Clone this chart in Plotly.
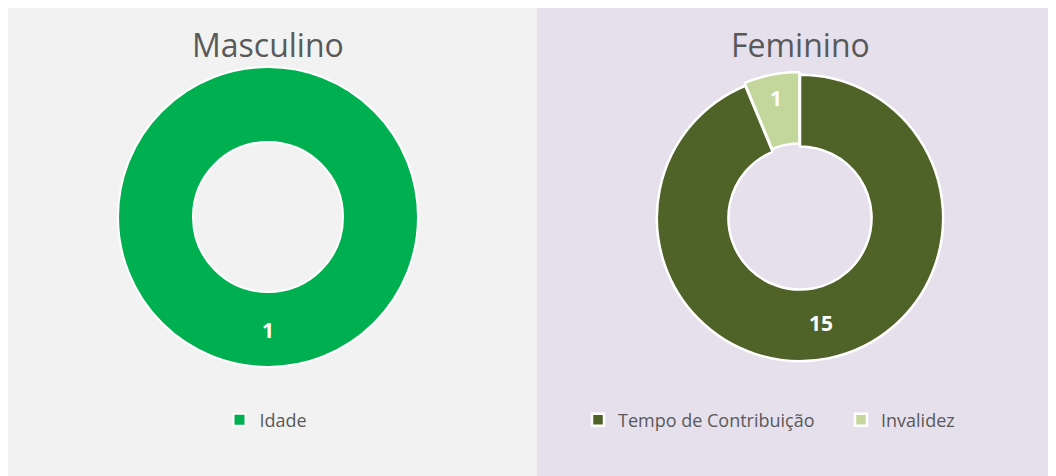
import plotly.graph_objects as go

W, H = 1056, 476
OFF = 8  # page offset of the figure inside the window

masc_labels = ["Idade"]
masc_values = [1]
masc_colors = ["#00b050"]

fem_labels = ["Tempo de Contribuição", "Invalidez"]
fem_values = [15, 1]
fem_colors = ["#4f6228", "#c3d69b"]

titles = ["Masculino", "Feminino"]

FONT = "Open Sans"
GREY = "#595959"

def px_x(x):
    return (x - OFF) / W

def px_y(y):
    return 1 - (y - OFF) / H

fig = go.Figure()

fig.add_trace(go.Pie(
    labels=masc_labels, values=masc_values, hole=0.5, sort=False,
    direction="clockwise", rotation=0,
    marker=dict(colors=masc_colors, line=dict(color="white", width=2)),
    textinfo="value", textposition="inside", insidetextorientation="horizontal",
    textfont=dict(family=FONT, size=21, color="white", weight="bold"),
    domain=dict(x=[px_x(118), px_x(418)], y=[px_y(367), px_y(67)]),
    legend="legend", showlegend=True, hoverinfo="label+value",
))

fig.add_trace(go.Pie(
    labels=fem_labels, values=fem_values, hole=0.5, sort=False,
    direction="clockwise", rotation=0, pull=[0, 0.02],
    marker=dict(colors=fem_colors, line=dict(color="white", width=2.5)),
    textinfo="value", textposition="inside", insidetextorientation="horizontal",
    textfont=dict(family=FONT, size=21, color="white", weight="bold"),
    domain=dict(x=[px_x(654), px_x(946)], y=[px_y(364), px_y(72)]),
    legend="legend2", showlegend=True, hoverinfo="label+value",
))

shapes = [
    dict(type="rect", xref="paper", yref="paper", x0=0, x1=px_x(537),
         y0=0, y1=1, fillcolor="#f2f2f2", line=dict(width=0), layer="below"),
    dict(type="rect", xref="paper", yref="paper", x0=px_x(537), x1=1,
         y0=0, y1=1, fillcolor="#e5e0ec", line=dict(width=0), layer="below"),
]

annotations = [
    dict(text=titles[0], x=px_x(268), y=px_y(45), xref="paper", yref="paper",
         showarrow=False, font=dict(family=FONT, size=32, color=GREY),
         xanchor="center", yanchor="middle"),
    dict(text=titles[1], x=px_x(800), y=px_y(45), xref="paper", yref="paper",
         showarrow=False, font=dict(family=FONT, size=32, color=GREY),
         xanchor="center", yanchor="middle"),
]

fig.update_layout(
    width=W, height=H, margin=dict(l=0, r=0, t=0, b=0, autoexpand=False),
    paper_bgcolor="white", plot_bgcolor="white",
    shapes=shapes, annotations=annotations,
    legend=dict(x=px_x(266), y=px_y(420), xanchor="center", yanchor="middle",
                orientation="h", bgcolor="rgba(0,0,0,0)",
                font=dict(family=FONT, size=18, color=GREY)),
    legend2=dict(x=px_x(841), y=px_y(420), xanchor="center", yanchor="middle",
                 orientation="h", bgcolor="rgba(0,0,0,0)",
                 entrywidth=218, entrywidthmode="pixels",
                 font=dict(family=FONT, size=18, color=GREY)),
)

fig.write_html("out.html")
